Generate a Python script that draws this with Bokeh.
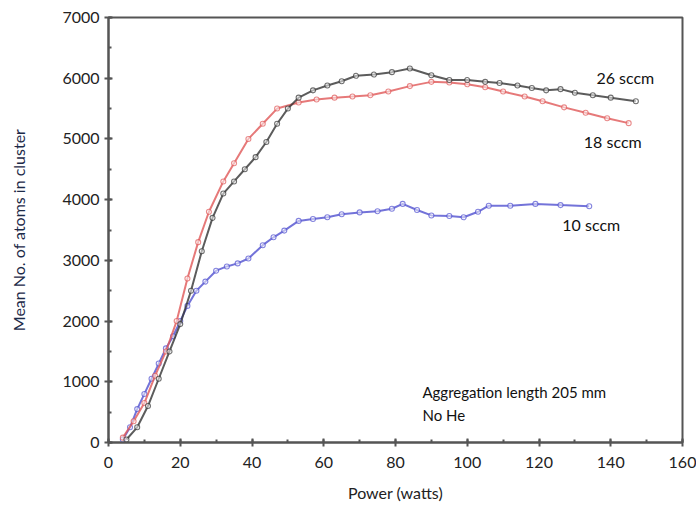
from bokeh.plotting import figure
from bokeh.models import SingleIntervalTicker, Range1d
from bokeh.core.properties import value
from bokeh.embed import file_html
from bokeh.resources import INLINE

# 26 sccm
x26 = [5, 8, 11, 14, 17, 20, 23, 26, 29, 32, 35, 38, 41, 44, 47, 50, 53, 57, 61, 65,
       69, 74, 79, 84, 90, 95, 100, 105, 109, 114, 118, 122, 126, 130, 135, 140, 147]
y26 = [50, 250, 600, 1050, 1500, 1950, 2500, 3150, 3700, 4100, 4300, 4500, 4700, 4950, 5250, 5500, 5680, 5800, 5880, 5950,
       6040, 6060, 6100, 6160, 6050, 5970, 5970, 5940, 5920, 5880, 5840, 5800, 5820, 5760, 5720, 5680, 5620]
# 18 sccm
x18 = [4, 7, 10, 13, 16, 19, 22, 25, 28, 32, 35, 39, 43, 47, 53, 58, 63, 68, 73, 78,
       84, 90, 95, 100, 105, 110, 116, 121, 127, 133, 139, 145]
y18 = [80, 350, 650, 1100, 1500, 2000, 2700, 3300, 3800, 4300, 4600, 5000, 5250, 5500, 5600, 5650, 5680, 5700, 5720, 5780,
       5870, 5940, 5930, 5900, 5850, 5780, 5700, 5620, 5520, 5430, 5340, 5260]
# 10 sccm
x10 = [4, 6, 8, 10, 12, 14, 16, 18, 20, 22, 24.5, 27, 30, 33, 36, 39, 43, 46, 49, 53,
       57, 61, 65, 70, 75, 79, 82, 86, 90, 95, 99, 103, 106, 112, 119, 126, 134]
y10 = [50, 250, 550, 800, 1050, 1300, 1550, 1750, 2000, 2250, 2500, 2650, 2830, 2900, 2950, 3030, 3250, 3380, 3490, 3650,
       3680, 3710, 3760, 3790, 3810, 3850, 3930, 3830, 3740, 3730, 3710, 3800, 3900, 3900, 3930, 3910, 3890]

series_labels = ["26 sccm", "18 sccm", "10 sccm"]
label_x = [136, 132.5, 126.5]
label_y = [6010, 4960, 3590]
note_lines = ["Aggregation length 205 mm", "No He"]
note_x = [87.5, 87.5]
note_y = [830, 460]

FONT = "Lato"

p = figure(width=696, height=506, output_backend="svg", toolbar_location=None,
           x_range=Range1d(0, 160), y_range=Range1d(0, 7000),
           min_border_left=108, min_border_right=14, min_border_top=17, min_border_bottom=64)
p.background_fill_color = "white"
p.border_fill_color = "white"
p.grid.visible = False
p.outline_line_color = "#555555"
p.outline_line_width = 2

p.xaxis.ticker = SingleIntervalTicker(interval=20, num_minor_ticks=2)
p.yaxis.ticker = SingleIntervalTicker(interval=1000, num_minor_ticks=2)
for ax in (p.xaxis[0], p.yaxis[0]):
    ax.axis_line_color = "#555555"
    ax.axis_line_width = 2
    ax.major_tick_line_color = "#555555"
    ax.minor_tick_line_color = "#555555"
    ax.major_tick_line_width = 2
    ax.minor_tick_line_width = 2
    ax.major_tick_in = 4
    ax.major_tick_out = 4
    ax.minor_tick_in = 3
    ax.minor_tick_out = 0
    ax.major_label_text_font = FONT
    ax.major_label_text_font_size = "16px"
    ax.major_label_text_color = "#222222"
    ax.axis_label_text_font = FONT
    ax.axis_label_text_font_size = "16px"
    ax.axis_label_text_font_style = "normal"
p.xaxis.axis_label = "Power (watts)"
p.yaxis.axis_label = "Mean No. of atoms in cluster"
p.xaxis.axis_label_text_color = "#222222"
p.yaxis.axis_label_text_color = "#1c2a48"
p.xaxis.major_label_standoff = 10
p.yaxis.major_label_standoff = 5
p.xaxis.axis_label_standoff = 12
p.yaxis.axis_label_standoff = 31

for xs, ys, col in [(x10, y10, "#5050d0"), (x18, y18, "#e05858"), (x26, y26, "#333333")]:
    p.line(xs, ys, line_color=col, line_width=2, line_alpha=0.8)
    p.scatter(xs, ys, marker="circle", size=5, line_color=col, fill_color="white",
              fill_alpha=0.5, line_width=1.1, line_alpha=0.7)

p.text(x=label_x, y=label_y, text=series_labels, text_font=value(FONT),
       text_font_size="16px", text_color="#111111", text_baseline="middle", text_align="left")
p.text(x=note_x, y=note_y, text=note_lines, text_font=value(FONT),
       text_font_size="15px", text_color="#111111", text_baseline="middle", text_align="left")

open("out.html", "w").write(file_html(p, INLINE))
